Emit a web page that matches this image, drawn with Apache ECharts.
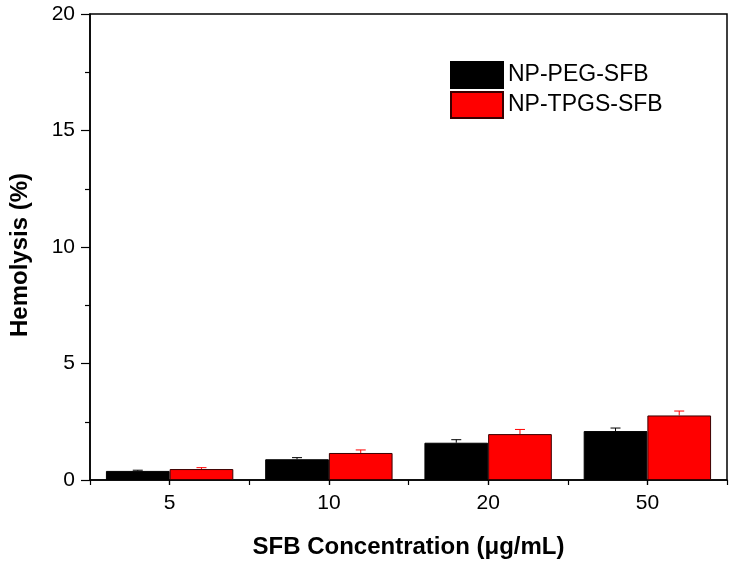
<!DOCTYPE html>
<html>
<head>
<meta charset="utf-8">
<script src="https://cdn.jsdelivr.net/npm/echarts@6/dist/echarts.min.js"></script>
<style>html,body{margin:0;padding:0;background:#fff;}#c{width:735px;height:564px;}</style>
</head>
<body>
<div id="c"></div>
<script>
var categories = ['5', '10', '20', '50'];
var seriesNames = ['NP-PEG-SFB', 'NP-TPGS-SFB'];
var pegValues = [0.39, 0.89, 1.60, 2.10];
var pegErrors = [0.03, 0.07, 0.13, 0.13];
var tpgsValues = [0.47, 1.16, 1.97, 2.77];
var tpgsErrors = [0.06, 0.13, 0.20, 0.19];
var yTicks = [0, 5, 10, 15, 20];

var chart = echarts.init(document.getElementById('c'), null, {renderer: 'canvas'});
var FONT = '"Liberation Sans", Arial, sans-serif';

function errSeries(values, errors, color, side) {
  return {
    type: 'custom',
    xAxisIndex: 0,
    yAxisIndex: 0,
    z: 1,
    silent: true,
    data: values.map(function (v, i) { return [i, v, v + errors[i]]; }),
    renderItem: function (params, api) {
      var idx = api.value(0);
      var catW = api.size([1, 0])[0];
      var barW = catW * 0.4;
      var base = api.coord([idx, api.value(1)]);
      var top = api.coord([idx, api.value(2)]);
      var x = base[0] + side * barW / 2;
      var half = 5;
      return {
        type: 'group',
        children: [
          {type: 'line', shape: {x1: x, y1: base[1], x2: x, y2: top[1]}, style: {stroke: color, lineWidth: 1}},
          {type: 'line', shape: {x1: x - half, y1: top[1], x2: x + half, y2: top[1]}, style: {stroke: color, lineWidth: 1}}
        ]
      };
    }
  };
}

var option = {
  backgroundColor: '#fff',
  animation: false,
  grid: {left: 86, right: 8, top: 14, bottom: 83, show: true, borderColor: '#000', borderWidth: 1.5, backgroundColor: 'transparent'},
  legend: {
    data: seriesNames,
    orient: 'vertical',
    left: 450,
    top: 61,
    itemWidth: 52,
    itemHeight: 26,
    itemGap: 2,
    icon: 'rect',
    textStyle: {fontFamily: FONT, fontSize: 23, lineHeight: 26, color: '#000'},
    padding: 0
  },
  xAxis: [
    {
      type: 'category',
      data: categories,
      position: 'bottom',
      axisLine: {show: true, lineStyle: {color: '#000', width: 1.5}},
      axisTick: {show: true, alignWithLabel: true, length: 5, lineStyle: {color: '#000', width: 1.2}},
      axisLabel: {fontFamily: FONT, fontSize: 21, color: '#000', margin: 13},
      name: 'SFB Concentration (\u03bcg/mL)',
      nameLocation: 'middle',
      nameGap: 55,
      nameTextStyle: {fontFamily: FONT, fontSize: 24, fontWeight: 'bold', color: '#000'}
    },
    {
      type: 'category',
      data: ['a', 'b', 'c', 'd', 'e', 'f', 'g', 'h'],
      position: 'bottom',
      axisLine: {show: false},
      axisTick: {show: true, interval: 0, length: 5, lineStyle: {color: '#000', width: 1.2}},
      axisLabel: {show: false}
    }
  ],
  yAxis: {
    type: 'value',
    min: yTicks[0],
    max: yTicks[yTicks.length - 1],
    interval: 5,
    axisLine: {show: true, lineStyle: {color: '#000', width: 1.5}},
    axisTick: {show: true, length: 9, lineStyle: {color: '#000', width: 1.2}},
    minorTick: {show: true, splitNumber: 2, length: 5, lineStyle: {color: '#000', width: 1.2}},
    splitLine: {show: false},
    axisLabel: {fontFamily: FONT, fontSize: 21, color: '#000', margin: 15},
    name: 'Hemolysis (%)',
    nameLocation: 'middle',
    nameGap: 58,
    nameTextStyle: {fontFamily: FONT, fontSize: 24, fontWeight: 'bold', color: '#000', padding: [0, 16, 0, 0]}
  },
  series: [
    errSeries(pegValues, pegErrors, '#000', -1),
    errSeries(tpgsValues, tpgsErrors, '#ff0000', 1),
    {
      name: seriesNames[0],
      type: 'bar',
      data: pegValues,
      barGap: '0%',
      barCategoryGap: '20%',
      z: 2,
      itemStyle: {color: '#000', borderColor: '#000', borderWidth: 1}
    },
    {
      name: seriesNames[1],
      type: 'bar',
      data: tpgsValues,
      barGap: '0%',
      barCategoryGap: '20%',
      z: 2,
      itemStyle: {color: '#ff0000', borderColor: '#3a0000', borderWidth: 1}
    }
  ]
};
chart.setOption(option);
</script>
</body>
</html>
